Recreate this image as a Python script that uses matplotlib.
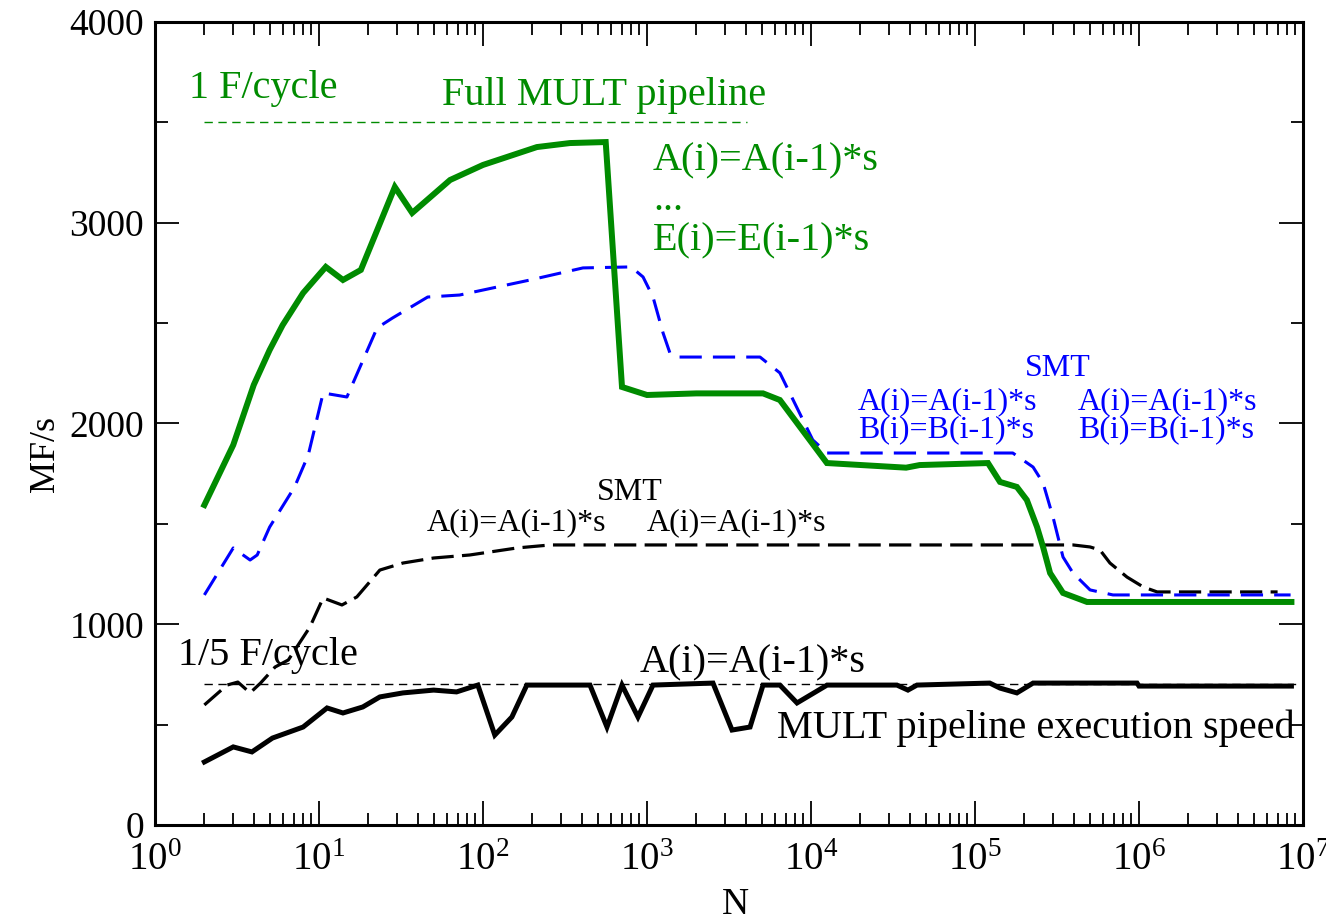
import matplotlib
matplotlib.use("Agg")
import matplotlib.pyplot as plt
from matplotlib.ticker import FixedLocator, MultipleLocator, LogLocator, NullFormatter

plt.rcParams['font.family'] = ['Liberation Serif', 'DejaVu Serif']
plt.rcParams['mathtext.fontset'] = 'custom'
plt.rcParams['mathtext.rm'] = 'Liberation Serif'
plt.rcParams['mathtext.it'] = 'Liberation Serif:italic'
plt.rcParams['mathtext.bf'] = 'Liberation Serif:bold'
plt.rcParams['lines.scale_dashes'] = False

GREEN = '#008b00'
BLUE = '#0000ff'

# ---- data ----
full_n = [2, 3, 4, 5, 6, 8, 11, 14, 18, 29, 37, 63, 100, 213, 339, 560, 704, 1000,
          2000, 5100, 6460, 12500, 38000, 46000, 120000, 142000, 180000, 207000,
          239000, 260000, 287000, 344000, 482000, 8.5e6]
full_mf = [1594, 1893, 2192, 2366, 2490, 2650, 2780, 2715, 2765, 3178, 3049, 3213, 3288,
           3377, 3397, 3402, 2182, 2142, 2150, 2150, 2117, 1803, 1780, 1793, 1803, 1709,
           1684, 1619, 1484, 1385, 1255, 1156, 1111, 1111]

smt2_n = [2, 3, 3.8, 4.2, 5, 7.1, 8.6, 10.6, 14.8, 22.6, 28, 46, 72, 194, 407, 800, 946,
          1088, 1253, 1380, 1525, 4887, 6460, 10250, 12530, 170000, 226000, 260000,
          299000, 344000, 396000, 503000, 694000, 8.4e6]
smt2_mf = [1146, 1380, 1320, 1345, 1484, 1684, 1843, 2152, 2132, 2476, 2525, 2630, 2640,
           2715, 2775, 2780, 2730, 2630, 2451, 2351, 2331, 2331, 2252, 1918, 1853, 1853,
           1783, 1704, 1534, 1335, 1255, 1171, 1146, 1146]

smt1_n = [2, 2.75, 3.2, 3.8, 4.4, 5.4, 6.5, 8.8, 10.6, 13.8, 17, 23.5, 32.5, 50, 83, 161,
          257, 396000, 503000, 578000, 665000, 845000, 1.06e6, 1.29e6, 7.0e6]
smt1_mf = [598, 697, 712, 658, 707, 787, 822, 986, 1131, 1096, 1136, 1270, 1305, 1330,
           1345, 1380, 1395, 1395, 1385, 1370, 1305, 1235, 1186, 1161, 1161]

single_n = [2, 3, 3.9, 5.2, 8, 11.2, 14, 18.5, 23.5, 32.5, 50, 69, 93, 118, 150, 185, 449,
            570, 704, 881, 1088, 2525, 3300, 4250, 5100, 6460, 8220, 12530, 33400, 39000,
            44300, 123000, 142000, 180000, 226000, 973000, 1.0e6, 8.5e6]
single_mf = [314, 389, 364, 433, 488, 583, 558, 588, 638, 658, 672, 663, 697, 448, 538, 697,
             697, 488, 697, 538, 697, 707, 473, 488, 697, 697, 608, 697, 697, 672, 697,
             707, 682, 658, 707, 707, 692, 692]

peak_n = [2, 4100]
peak_mf = [3500, 3500]
fifth_n = [2, 9.2e6]
fifth_mf = [700, 700]

y_ticks = [0, 1000, 2000, 3000, 4000]
x_ticks = [1e0, 1e1, 1e2, 1e3, 1e4, 1e5, 1e6, 1e7]
x_labels = [r'$10^{%d}$' % k for k in range(8)]

# ---- figure ----
fig = plt.figure(figsize=(13.26, 9.23), dpi=100)
ax = fig.add_axes([155/1326, 98/923, 1148/1326, 803/923])
ax.set_xscale('log')
ax.set_xlim(1, 1e7)
ax.set_ylim(0, 4000)

ax.plot(peak_n, peak_mf, color=GREEN, lw=1.0, dashes=(6, 4))
ax.plot(fifth_n, fifth_mf, color='black', lw=1.0, dashes=(6, 4))
ax.plot(smt1_n, smt1_mf, color='black', lw=2.3, dashes=(16, 6))
ax.plot(single_n, single_mf, color='black', lw=3.6, solid_joinstyle='miter')
ax.plot(smt2_n, smt2_mf, color=BLUE, lw=2.2, dashes=(16, 8))
ax.plot(full_n, full_mf, color=GREEN, lw=4.3, solid_joinstyle='miter')

big = 29
small = 23
ax.text(1.612, 3621, '1 F/cycle', color=GREEN, fontsize=big, va='baseline')
ax.text(56.2, 3587, 'Full MULT pipeline', color=GREEN, fontsize=big, va='baseline')
ax.text(1088, 3263, 'A(i)=A(i-1)*s', color=GREEN, fontsize=big, va='baseline')
ax.text(1088, 3063, '...', color=GREEN, fontsize=big, va='baseline')
ax.text(1088, 2864, 'E(i)=E(i-1)*s', color=GREEN, fontsize=big, va='baseline')

ax.text(201800, 2237, 'SMT', color=BLUE, fontsize=small, va='baseline')
ax.text(19350, 2072, 'A(i)=A(i-1)*s', color=BLUE, fontsize=small, va='baseline')
ax.text(19350, 1933, 'B(i)=B(i-1)*s', color=BLUE, fontsize=small, va='baseline')
ax.text(424600, 2072, 'A(i)=A(i-1)*s', color=BLUE, fontsize=small, va='baseline')
ax.text(424600, 1933, 'B(i)=B(i-1)*s', color=BLUE, fontsize=small, va='baseline')

ax.text(495, 1619, 'SMT', color='black', fontsize=small, va='baseline')
ax.text(45.6, 1469, 'A(i)=A(i-1)*s', color='black', fontsize=small, va='baseline')
ax.text(1000, 1469, 'A(i)=A(i-1)*s', color='black', fontsize=small, va='baseline')

ax.text(1.38, 797, '1/5 F/cycle', color='black', fontsize=big, va='baseline')
ax.text(906, 762, 'A(i)=A(i-1)*s', color='black', fontsize=big, va='baseline')
ax.text(6207, 433, 'MULT pipeline execution speed', color='black', fontsize=big,
        va='baseline')

# ---- axes styling ----
for s in ax.spines.values():
    s.set_linewidth(2.2)

ax.yaxis.set_major_locator(FixedLocator(y_ticks))
ax.yaxis.set_minor_locator(MultipleLocator(500))
ax.set_yticklabels([str(v) for v in y_ticks])
ax.xaxis.set_major_locator(FixedLocator(x_ticks))
ax.set_xticklabels(x_labels)
ax.xaxis.set_minor_locator(LogLocator(base=10, subs=range(2, 10), numticks=20))
ax.xaxis.set_minor_formatter(NullFormatter())

ax.tick_params(which='both', direction='in', top=True, right=True, width=1.3)
ax.tick_params(which='major', length=17, labelsize=27)
ax.tick_params(which='minor', length=9)
ax.tick_params(axis='y', which='major', pad=8)
ax.tick_params(axis='x', which='major', pad=12, labelsize=28)

ax.set_xlabel('N', fontsize=27)
ax.set_ylabel('MF/s', fontsize=26)
ax.xaxis.set_label_coords((735-155)/1148, (825-887)/803)
ax.yaxis.set_label_coords((62-155)/1148, (825-454)/803)

fig.savefig('out.png', dpi=100)
